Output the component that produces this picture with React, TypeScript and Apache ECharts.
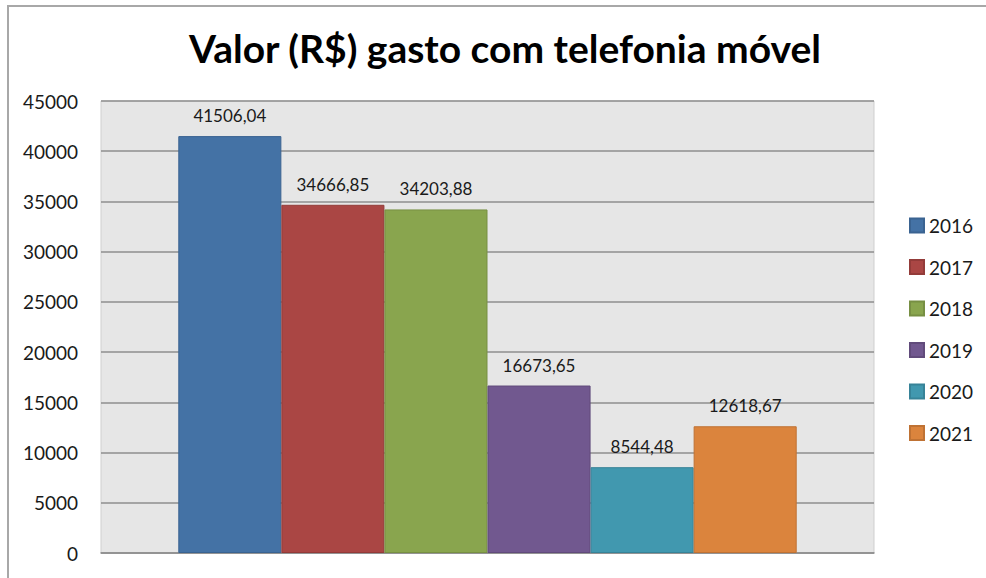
import React, { useEffect, useRef } from "react";
import * as echarts from "echarts";

const title = "Valor (R$) gasto com telefonia móvel";
const years = ["2016", "2017", "2018", "2019", "2020", "2021"];
const values = [41506.04, 34666.85, 34203.88, 16673.65, 8544.48, 12618.67];
const colors = ["#4472A5", "#AA4644", "#89A54E", "#71588F", "#4198AF", "#DB843D"];
const borders = ["#3A6391", "#933B39", "#778F43", "#614B7B", "#378398", "#BF7234"];
const yTicks = { min: 0, max: 45000, interval: 5000 };

const FONT = "Lato, 'Open Sans', sans-serif";

function fmt(v: number): string {
  return v.toFixed(2).replace(".", ",");
}

export default function App() {
  const ref = useRef<HTMLDivElement>(null);
  useEffect(() => {
    document.body.style.margin = "0";
    const chart = echarts.init(ref.current!, undefined, { renderer: "svg" });
    chart.setOption({
      animation: false,
      backgroundColor: "#ffffff",
      textStyle: { fontFamily: FONT },
      title: {
        text: title,
        left: 500,
        textAlign: "center",
        top: 23,
        textStyle: { fontFamily: FONT, fontSize: 39, fontWeight: "bold", color: "#000000" },
      },
      graphic: [
        {
          type: "rect",
          shape: { x: 8, y: 6, width: 1000, height: 600 },
          style: { fill: "none", stroke: "#a8a8a8", lineWidth: 2 },
          silent: true,
        },
      ],
      legend: {
        orient: "vertical",
        left: 909,
        top: 216,
        padding: 0,
        itemWidth: 14,
        itemHeight: 14,
        itemGap: 22.5,
        icon: "rect",
        textStyle: { fontFamily: FONT, fontSize: 19, lineHeight: 19, color: "#1a1a1a" },
        data: years,
      },
      grid: {
        left: 101,
        right: 986 - 874,
        top: 101,
        bottom: 578 - 553,
        show: true,
        backgroundColor: "#e6e6e6",
        borderColor: "#cfcfcf",
        borderWidth: 1,
      },
      xAxis: {
        type: "category",
        data: [""],
        axisLine: { show: true, lineStyle: { color: "#8e8e8e", width: 1.5 } },
        axisTick: { show: false },
        axisLabel: { show: false },
      },
      yAxis: {
        type: "value",
        min: yTicks.min,
        max: yTicks.max,
        interval: yTicks.interval,
        axisLine: { show: false },
        axisTick: { show: false },
        axisLabel: {
          margin: 23,
          fontFamily: FONT,
          fontSize: 19,
          color: "#1a1a1a",
          formatter: (v: number) => String(v),
        },
        splitLine: { lineStyle: { color: "#8e8e8e", width: 1.5 } },
      },
      series: years.map((y, i) => ({
        name: y,
        type: "bar",
        data: [values[i]],
        barGap: "0%",
        barCategoryGap: "20%",
        itemStyle: { color: colors[i], borderColor: borders[i], borderWidth: 1 },
        label: {
          show: true,
          position: "top",
          distance: 12,
          fontFamily: FONT,
          fontSize: 17,
          color: "#1a1a1a",
          formatter: (p: any) => fmt(p.value),
        },
      })),
    });
    return () => chart.dispose();
  }, []);
  return <div ref={ref} style={{ width: 986, height: 578 }} />;
}
